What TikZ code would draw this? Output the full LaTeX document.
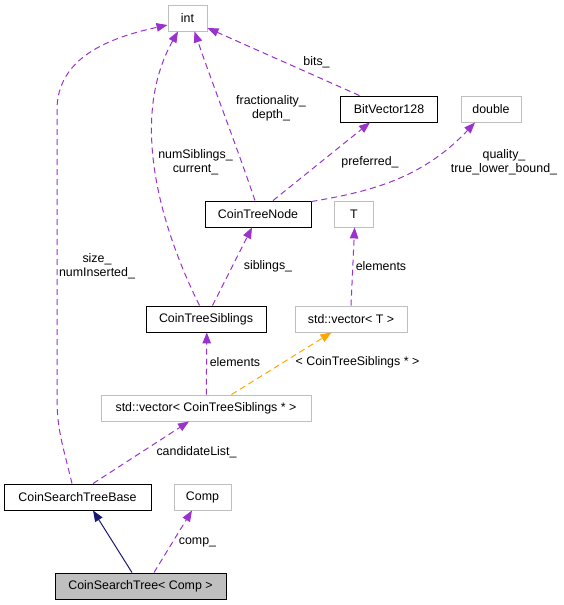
\documentclass[tikz,border=0pt]{standalone}
\usepackage{fontspec}
\setmainfont{Liberation Sans}
\usepackage{tikz}
\usetikzlibrary{calc,arrows.meta}
\definecolor{dep}{HTML}{9A32CD}
\definecolor{tmpl}{HTML}{FFA500}
\definecolor{inh}{HTML}{191970}
\definecolor{frame}{HTML}{BFBFBF}
\tikzset{
  cls/.style={draw=black, line width=0.9pt, inner sep=0pt, minimum height=26pt, font=\fontsize{12.4}{14}\selectfont},
  ext/.style={cls, draw=frame},
  cur/.style={cls, fill=frame},
  use/.style={draw=dep, line width=1pt, dash pattern=on 6pt off 4pt, -{Triangle[length=11pt,width=8.5pt,fill=dep]}},
  inst/.style={use, draw=tmpl, -{Triangle[length=11pt,width=8.5pt,fill=tmpl]}},
  base/.style={draw=inh, line width=1pt, -{Triangle[length=11pt,width=8.5pt,fill=inh]}},
  lab/.style={align=center, inner sep=0pt, font=\fontsize{12.4}{14}\selectfont},
}
\begin{document}
\begin{tikzpicture}[x=1pt,y=-1pt]
  \useasboundingbox (0,0) rectangle (563,605);

  % classes
  \node[ext, minimum width=39pt]  (int)    at (187.5,18)  {int};
  \node[cls, minimum width=97pt]  (bv)     at (389,109)   {BitVector128};
  \node[ext, minimum width=60pt]  (dbl)    at (491,109)   {double};
  \node[cls, minimum width=106pt] (ctn)    at (258,214)   {CoinTreeNode};
  \node[ext, minimum width=39pt]  (T)      at (354,214)   {T};
  \node[cls, minimum width=120pt] (cts)    at (206,319)   {CoinTreeSiblings};
  \node[ext, minimum width=112pt] (vecT)   at (351,319)   {std::vector< T >};
  \node[ext, minimum width=210pt] (vecCTS) at (206,408)   {std::vector< CoinTreeSiblings * >};
  \node[cls, minimum width=147pt] (cstb)   at (77.5,497)  {CoinSearchTreeBase};
  \node[ext, minimum width=57pt]  (comp)   at (202.5,497) {Comp};
  \node[cur, minimum width=171pt] (cst)    at (140.5,586) {CoinSearchTree< Comp >};

  % usage relations
  \draw[use] ([xshift=-5.5pt]cstb.north) .. controls (64,450) and (57,430) .. (57,400)
    -- (57,110) .. controls (57,58) and (108,38) .. ([yshift=-7pt]int.west);
  \node[lab] (l1) at (97,266) {size\_\\numInserted\_};

  \draw[use] ([xshift=-6.5pt]cts.north) .. controls (162,230) and (128,120) .. ([xshift=-9.5pt]int.south);
  \node[lab] (l2) at (195.5,162) {numSiblings\_\\current\_};

  \draw[use] ([xshift=-3pt]ctn.north) .. controls (238,150) and (211,80) .. ([xshift=7pt]int.south);
  \node[lab] (l3) at (271,108) {fractionality\_\\depth\_};

  \draw[use] ([xshift=-29.5pt]bv.north) -- ([yshift=-10pt]int.east);
  \node[lab] (l4) at (316.5,62) {bits\_};

  \draw[use] ([xshift=15pt]ctn.north) -- ([xshift=-19pt]bv.south);
  \node[lab] (l5) at (370,162) {preferred\_};

  \draw[use] ([yshift=-1pt]ctn.north east) .. controls (367,192) and (421,180) .. ([xshift=-16pt]dbl.south);
  \node[lab] (l6) at (504,162) {quality\_\\true\_lower\_bound\_};

  \draw[use] ([xshift=6.5pt]cts.north) -- ([xshift=-6pt]ctn.south);
  \node[lab] (l7) at (268,266) {siblings\_};

  \draw[use] (vecT.north) -- ([xshift=0.6pt]T.south);
  \node[lab] (l8) at (381,266) {elements};

  \draw[use] ([xshift=0.3pt]vecCTS.north) -- ([xshift=0.8pt]cts.south);
  \node[lab] (l9) at (235,362) {elements};

  \draw[inst] ([xshift=25.5pt]vecCTS.north) -- ([xshift=-19.5pt]vecT.south);
  \node[lab] (l10) at (357.5,362) {< CoinTreeSiblings * >};

  \draw[use] ([xshift=15.5pt]cstb.north) -- ([xshift=-17pt]vecCTS.south);
  \node[lab] (l11) at (196.5,452) {candidateList\_};

  \draw[use] ([xshift=13.5pt]cst.north) -- ([xshift=-10.5pt]comp.south);
  \node[lab] (l12) at (197.5,542) {comp\_};

  % inheritance
  \draw[base] ([xshift=-8.5pt]cst.north) -- ([xshift=15.5pt]cstb.south);
\end{tikzpicture}
\end{document}
